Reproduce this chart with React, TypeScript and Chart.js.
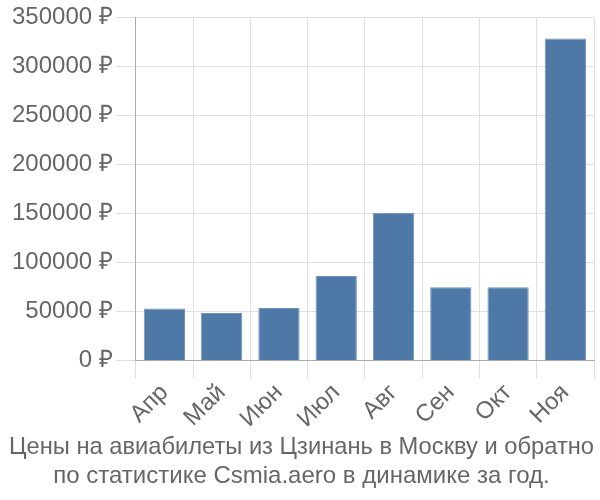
import React, { useEffect, useRef } from "react";
import { Chart, registerables } from "chart.js";

Chart.register(...registerables);

const categories = ["Апр", "Май", "Июн", "Июл", "Авг", "Сен", "Окт", "Ноя"];
const prices = [53000, 48600, 53700, 86200, 150700, 74700, 74700, 328500];
const titleLines = [
  "Цены на авиабилеты из Цзинань в Москву и обратно",
  "по статистике Csmia.aero в динамике за год.",
];

const FONT = "'Liberation Sans', Arial, sans-serif";

export default function App() {
  const ref = useRef<HTMLCanvasElement | null>(null);
  useEffect(() => {
    document.body.style.margin = "0";
    const ctx = ref.current!;
    const chart = new Chart(ctx, {
      type: "bar",
      data: {
        labels: categories,
        datasets: [
          {
            data: prices,
            backgroundColor: "#4e79a7",
            borderColor: "#6f93bd",
            borderWidth: 1,
          },
        ],
      },
      options: {
        animation: false,
        responsive: false,
        layout: { padding: { left: 9, right: 6, top: -3, bottom: 0 } },
        plugins: {
          legend: { display: false },
          tooltip: { enabled: false },
          title: {
            display: true,
            position: "bottom",
            text: titleLines,
            color: "#666",
            font: { family: FONT, size: 24, weight: "normal" },
            padding: { top: 0, bottom: 9 },
            lineHeight: 1.1,
          },
        },
        scales: {
          x: {
            grid: { color: "#e0e0e0", tickLength: 18, offset: true },
            border: { color: "#aaa" },
            ticks: {
              color: "#666",
              maxRotation: 45,
              minRotation: 45,
              font: { family: FONT, size: 24 },
              padding: 0,
            },
          },
          y: {
            min: 0,
            max: 350000,
            grid: { color: "#e0e0e0", tickLength: 20 },
            border: { color: "#aaa" },
            ticks: {
              stepSize: 50000,
              color: "#666",
              padding: 3,
              font: { family: FONT, size: 24 },
              callback: (v: any) => v + " ₽",
            },
          },
        },
      },
    });
    return () => chart.destroy();
  }, []);
  return (
    <div style={{ width: 600, height: 500 }}>
      <canvas ref={ref} width={600} height={500} />
    </div>
  );
}
